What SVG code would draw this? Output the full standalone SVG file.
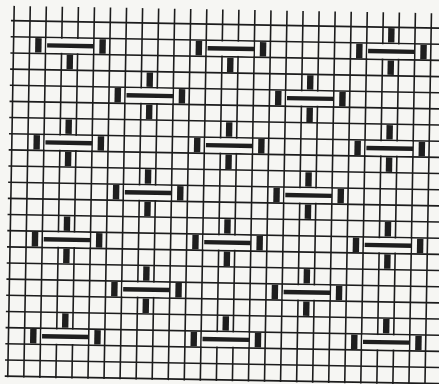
<svg xmlns="http://www.w3.org/2000/svg" xmlns:xlink="http://www.w3.org/1999/xlink" width="439" height="384" viewBox="0 0 439 384">
<style>
.grid{fill:none;stroke:#1c1c1c;stroke-width:1.6}
.ink{fill:#1e1e1e}
.mask{fill:#f6f6f3}
</style>
<defs>
<g id="barrow">
<rect class="mask" x="16.85" y="1" width="46.55" height="14.16"/>
<rect class="ink" x="5.6" y="0.9" width="6.4" height="14.4"/>
<rect class="ink" x="69.8" y="0.9" width="6.4" height="14.4"/>
<rect class="ink" x="17.55" y="5.8" width="46.65" height="4.4"/>
</g>
<rect id="topbar" class="ink" x="37.3" y="-15.26" width="6.4" height="14.4"/>
<rect id="botbar" class="ink" x="37.3" y="17.06" width="6.4" height="14.4"/>
</defs>
<rect width="439" height="384" fill="#f6f6f3"/>
<g transform="rotate(1 220 192)">
<g id="connectors">
<path class="grid" d="M11 9.5V381M27.05 9.5V381M43.1 9.5V381M59.15 9.5V381M75.2 9.5V381M91.25 9.5V381M107.3 9.5V381M123.35 9.5V381M139.4 9.5V381M155.45 9.5V381M171.5 9.5V381M187.55 9.5V381M203.6 9.5V381M219.65 9.5V381M235.7 9.5V381M251.75 9.5V381M267.8 9.5V381M283.85 9.5V381M299.9 9.5V381M315.95 9.5V381M332 9.5V381M348.05 9.5V381M364.1 9.5V381M380.15 9.5V381M396.2 9.5V381M412.25 9.5V381M428.3 9.5V381"/>
<path class="grid" d="M8 24.3H450M8 40.46H450M8 56.62H450M8 72.78H450M8 88.94H450M8 105.1H450M8 121.26H450M8 137.42H450M8 153.58H450M8 169.74H450M8 185.9H450M8 202.06H450M8 218.22H450M8 234.38H450M8 250.54H450M8 266.7H450M8 282.86H450M8 299.02H450M8 315.18H450M8 331.34H450M8 347.5H450M8 363.66H450M8 379.82H450"/>
</g>
<g id="motif-a1" transform="translate(27.05 40.46)"><use href="#barrow"/><use href="#botbar"/></g>
<g id="motif-a2" transform="translate(187.55 40.46)"><use href="#barrow"/><use href="#botbar"/></g>
<g id="motif-a3" transform="translate(348.05 40.46)"><use href="#barrow"/><use href="#topbar"/><use href="#botbar"/></g>
<g id="motif-b1" transform="translate(107.3 88.94)"><use href="#barrow"/><use href="#topbar"/><use href="#botbar"/></g>
<g id="motif-b2" transform="translate(267.8 88.94)"><use href="#barrow"/><use href="#topbar"/><use href="#botbar"/></g>
<g id="motif-c1" transform="translate(27.05 137.42)"><use href="#barrow"/><use href="#topbar"/><use href="#botbar"/></g>
<g id="motif-c2" transform="translate(187.55 137.42)"><use href="#barrow"/><use href="#topbar"/><use href="#botbar"/></g>
<g id="motif-c3" transform="translate(348.05 137.42)"><use href="#barrow"/><use href="#topbar"/><use href="#botbar"/></g>
<g id="motif-d1" transform="translate(107.3 185.9)"><use href="#barrow"/><use href="#topbar"/><use href="#botbar"/></g>
<g id="motif-d2" transform="translate(267.8 185.9)"><use href="#barrow"/><use href="#topbar"/><use href="#botbar"/></g>
<g id="motif-e1" transform="translate(27.05 234.38)"><use href="#barrow"/><use href="#topbar"/><use href="#botbar"/></g>
<g id="motif-e2" transform="translate(187.55 234.38)"><use href="#barrow"/><use href="#topbar"/><use href="#botbar"/></g>
<g id="motif-e3" transform="translate(348.05 234.38)"><use href="#barrow"/><use href="#topbar"/><use href="#botbar"/></g>
<g id="motif-f1" transform="translate(107.3 282.86)"><use href="#barrow"/><use href="#topbar"/><use href="#botbar"/></g>
<g id="motif-f2" transform="translate(267.8 282.86)"><use href="#barrow"/><use href="#topbar"/><use href="#botbar"/></g>
<g id="motif-g1" transform="translate(27.05 331.34)"><use href="#barrow"/><use href="#topbar"/></g>
<g id="motif-g2" transform="translate(187.55 331.34)"><use href="#barrow"/><use href="#topbar"/></g>
<g id="motif-g3" transform="translate(348.05 331.34)"><use href="#barrow"/><use href="#topbar"/></g>
</g>
</svg>
